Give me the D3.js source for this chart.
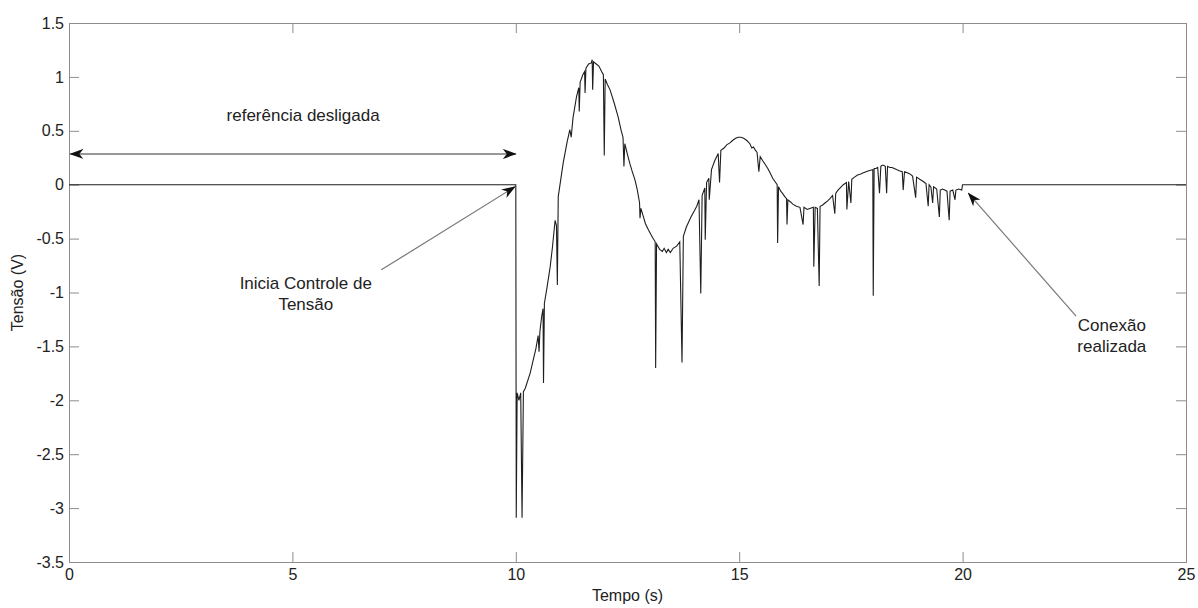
<!DOCTYPE html>
<html>
<head>
<meta charset="utf-8">
<script src="https://cdn.jsdelivr.net/npm/d3@7"></script>
<style>
  body { margin: 0; background: #fff; }
  text { font-family: "Liberation Sans", Arial, sans-serif; fill: #222; }
</style>
</head>
<body>
<div id="chart"></div>
<script>
const width = 1198;
const height = 608;

const colorAxis = '#8c8c8c';
const colorLine = '#1e1e1e';
const colorArrow = '#777';

// plot box
const margin = { left: 69, right: 12, top: 23, bottom: 46 };

const xTicks = [0, 5, 10, 15, 20, 25];
const yTicks = [1.5, 1, 0.5, 0, -0.5, -1, -1.5, -2, -2.5, -3, -3.5];

// tempo (s), tensão (V)
const signal = [
  [0, 0], [10.0, 0], [10.01, -3.09], [10.03, -1.93], [10.07, -2.0], [10.11, -1.93], [10.14, -3.09],
  [10.17, -1.92], [10.21, -1.89], [10.32, -1.75], [10.45, -1.52], [10.50, -1.40], [10.52, -1.55],
  [10.54, -1.36], [10.58, -1.22], [10.61, -1.15], [10.62, -1.84], [10.64, -1.10], [10.70, -0.95],
  [10.77, -0.76], [10.82, -0.58], [10.88, -0.33], [10.91, -0.38], [10.93, -0.93], [10.95, -0.11],
  [11.06, 0.20], [11.15, 0.40], [11.21, 0.51], [11.24, 0.44], [11.28, 0.62], [11.36, 0.82],
  [11.41, 0.90], [11.42, 0.68], [11.44, 0.95], [11.50, 1.02], [11.54, 1.05], [11.55, 0.85],
  [11.57, 1.08], [11.63, 1.12], [11.69, 1.13], [11.71, 1.16], [11.72, 0.88], [11.74, 1.14],
  [11.80, 1.12], [11.86, 1.10], [11.92, 1.05], [11.96, 1.02], [11.98, 0.27], [12.00, 0.98],
  [12.05, 0.93], [12.11, 0.88], [12.20, 0.76], [12.29, 0.63], [12.36, 0.50], [12.40, 0.44],
  [12.42, 0.17], [12.44, 0.38], [12.50, 0.28], [12.55, 0.20], [12.60, 0.13], [12.67, 0.04],
  [12.72, -0.05], [12.75, -0.12], [12.77, -0.17], [12.78, -0.31], [12.80, -0.22], [12.85, -0.29],
  [12.90, -0.36], [12.97, -0.42], [13.06, -0.49], [13.12, -0.53], [13.13, -1.70],
  [13.15, -0.55], [13.22, -0.60], [13.28, -0.62], [13.32, -0.59], [13.37, -0.63], [13.41, -0.60],
  [13.46, -0.63], [13.52, -0.59], [13.60, -0.57], [13.67, -0.53], [13.72, -1.65], [13.75, -0.48],
  [13.82, -0.39], [13.92, -0.30], [14.00, -0.24], [14.05, -0.20], [14.10, -0.14], [14.14, -1.01],
  [14.17, -0.10], [14.23, -0.03], [14.24, -0.51], [14.27, 0.02], [14.32, 0.06], [14.33, -0.14],
  [14.38, 0.14], [14.45, 0.22], [14.53, 0.29], [14.56, 0.02], [14.59, 0.32], [14.66, 0.34],
  [14.72, 0.37], [14.80, 0.39], [14.85, 0.41], [14.92, 0.43], [14.98, 0.44], [15.04, 0.44],
  [15.10, 0.43], [15.17, 0.41], [15.24, 0.38], [15.28, 0.34], [15.32, 0.35], [15.36, 0.32],
  [15.40, 0.30], [15.44, 0.12], [15.47, 0.26], [15.53, 0.22], [15.58, 0.19], [15.64, 0.15],
  [15.69, 0.11], [15.75, 0.06], [15.80, 0.03], [15.85, 0.00], [15.86, -0.54], [15.88, -0.02],
  [15.93, -0.06], [15.97, -0.08], [16.02, -0.11], [16.06, -0.13], [16.07, -0.37], [16.09, -0.14],
  [16.15, -0.16], [16.20, -0.18], [16.28, -0.20], [16.36, -0.21], [16.43, -0.37], [16.45, -0.21],
  [16.52, -0.23], [16.58, -0.22], [16.66, -0.21], [16.67, -0.76], [16.70, -0.21], [16.75, -0.22],
  [16.79, -0.94], [16.81, -0.20], [16.86, -0.19], [16.92, -0.17], [16.98, -0.15], [17.03, -0.13],
  [17.09, -0.10], [17.14, -0.27], [17.16, -0.08], [17.21, -0.05], [17.26, -0.03], [17.33, 0.00],
  [17.40, 0.02], [17.41, -0.23], [17.45, 0.03], [17.50, -0.17], [17.52, 0.05], [17.58, 0.07],
  [17.65, 0.09], [17.72, 0.10], [17.78, 0.11], [17.84, 0.12], [17.90, 0.13], [17.99, 0.14],
  [18.00, -1.03], [18.02, 0.15], [18.06, 0.15], [18.10, 0.16], [18.14, -0.08], [18.17, 0.17],
  [18.20, 0.18], [18.23, 0.18], [18.27, 0.17], [18.30, -0.08], [18.32, 0.17], [18.37, 0.16],
  [18.42, 0.16], [18.47, 0.15], [18.52, 0.14], [18.58, 0.13], [18.65, 0.12], [18.67, -0.05],
  [18.70, 0.12], [18.76, 0.11], [18.82, 0.10], [18.88, 0.08], [18.95, -0.12], [18.97, 0.07],
  [19.04, 0.05], [19.12, 0.03], [19.18, 0.01], [19.23, -0.20], [19.25, 0.00], [19.29, -0.02],
  [19.33, -0.17], [19.35, -0.02], [19.42, -0.04], [19.48, -0.30], [19.50, -0.05], [19.55, -0.04],
  [19.60, -0.05], [19.65, -0.06], [19.70, -0.33], [19.72, -0.06], [19.78, -0.05], [19.83, -0.14],
  [19.85, -0.05], [19.91, -0.04], [19.98, -0.05], [20.0, 0], [25, 0]
];

// annotations in data coordinates [t, v]
const arrows = [
  { from: [0.03, 0.285], to: [10.0, 0.285], both: true },
  { from: [6.99, -0.79], to: [9.98, -0.02], both: false },
  { from: [22.54, -1.22], to: [20.13, -0.08], both: false }
];
const labels = [
  { at: [5.24, 0.59], lines: ['referência desligada'] },
  { at: [5.30, -0.97], lines: ['Inicia Controle de', 'Tensão'] },
  { at: [23.34, -1.36], lines: ['Conexão', 'realizada'] }
];

const x = d3.scaleLinear().domain([0, 25]).range([margin.left, width - margin.right]);
const y = d3.scaleLinear().domain([-3.5, 1.5]).range([height - margin.bottom, margin.top]);

const svg = d3.select('#chart')
    .append('svg')
    .attr('width', width)
    .attr('height', height);

const defs = svg.append('defs');
defs.append('marker')
    .attr('id', 'head')
    .attr('viewBox', '0 0 14 10')
    .attr('refX', 13)
    .attr('refY', 5)
    .attr('markerWidth', 14)
    .attr('markerHeight', 10)
    .attr('markerUnits', 'userSpaceOnUse')
    .attr('orient', 'auto-start-reverse')
  .append('path')
    .attr('d', 'M0,0 L14,5 L0,10 L4,5 Z')
    .attr('fill', '#111');

// axes: ticks inside, on all four sides
const tickLen = 10;
const axisBottom = d3.axisBottom(x).tickValues(xTicks).tickSize(-tickLen).tickPadding(8).tickFormat(d3.format('d'));
const axisTop = d3.axisTop(x).tickValues(xTicks).tickSize(-tickLen).tickFormat('');
const axisLeft = d3.axisLeft(y).tickValues(yTicks).tickSize(-tickLen).tickPadding(5).tickFormat(d => d);
const axisRight = d3.axisRight(y).tickValues(yTicks).tickSize(-tickLen).tickFormat('');

function styleAxis(g) {
  g.select('.domain').attr('stroke', colorAxis);
  g.selectAll('.tick line').attr('stroke', colorAxis);
  g.selectAll('.tick text')
      .style('font-family', '"Liberation Sans", Arial, sans-serif')
      .style('font-size', '16px')
      .attr('fill', '#222');
}

svg.append('g').attr('transform', `translate(0,${y(-3.5)})`).call(axisBottom).call(styleAxis)
    .selectAll('.tick text').attr('dy', '0.6em');
svg.append('g').attr('transform', `translate(0,${y(1.5)})`).call(axisTop).call(styleAxis);
svg.append('g').attr('transform', `translate(${x(0)},0)`).call(axisLeft).call(styleAxis);
svg.append('g').attr('transform', `translate(${x(25)},0)`).call(axisRight).call(styleAxis);

// signal
const line = d3.line()
    .x(d => x(d[0]))
    .y(d => y(d[1]));

svg.append('path')
    .datum(signal)
    .attr('d', line)
    .attr('fill', 'none')
    .attr('stroke', colorLine)
    .attr('stroke-width', 1.1)
    .attr('stroke-linejoin', 'miter');

// arrows
svg.selectAll('.arrow')
    .data(arrows)
    .enter().append('line')
    .attr('class', 'arrow')
    .attr('x1', d => x(d.from[0]))
    .attr('y1', d => y(d.from[1]))
    .attr('x2', d => x(d.to[0]))
    .attr('y2', d => y(d.to[1]))
    .attr('stroke', d => d.both ? '#333' : colorArrow)
    .attr('stroke-width', 1.2)
    .attr('marker-end', 'url(#head)')
    .attr('marker-start', d => d.both ? 'url(#head)' : null);

// labels
labels.forEach(l => {
  const t = svg.append('text')
      .attr('x', x(l.at[0]))
      .attr('y', y(l.at[1]))
      .attr('text-anchor', 'middle')
      .style('font-size', '17px');
  l.lines.forEach((s, i) => {
    t.append('tspan')
        .attr('x', x(l.at[0]))
        .attr('dy', i === 0 ? 0 : 21)
        .text(s);
  });
});

// axis titles
svg.append('text')
    .attr('x', (x(0) + x(25)) / 2)
    .attr('y', 601)
    .attr('text-anchor', 'middle')
    .style('font-size', '16px')
    .text('Tempo (s)');

svg.append('text')
    .attr('transform', `translate(23,${(y(1.5) + y(-3.5)) / 2}) rotate(-90)`)
    .attr('text-anchor', 'middle')
    .style('font-size', '16px')
    .text('Tensão (V)');
</script>
</body>
</html>
